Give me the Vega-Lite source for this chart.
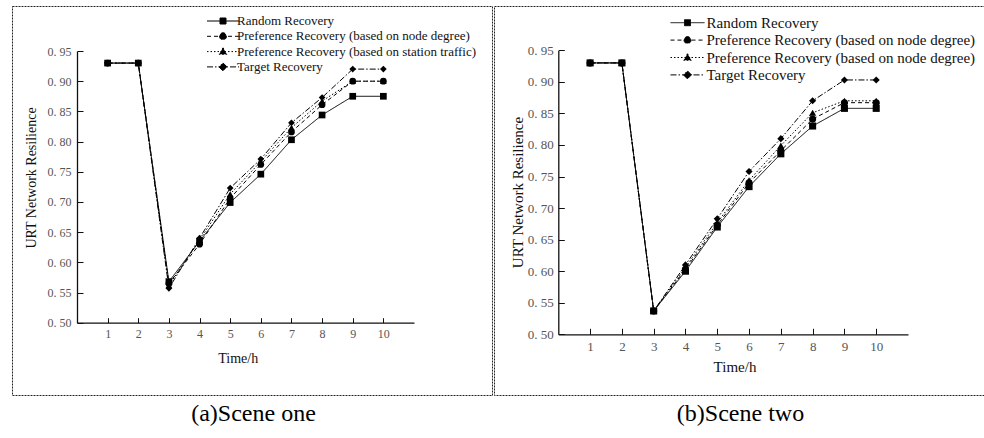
{
  "$schema": "https://vega.github.io/schema/vega-lite/v6.json",
  "padding": {"left": 11, "top": 5, "right": 0, "bottom": 0},
  "background": "white",
  "spacing": 0,
  "config": {
    "view": {"stroke": "#222222", "strokeDash": [2, 1], "strokeWidth": 1},
    "concat": {"spacing": 0},
    "font": "Liberation Serif",
    "axis": {
      "grid": false,
      "domainColor": "#111111",
      "domainWidth": 1.3,
      "tickColor": "#111111",
      "tickWidth": 1,
      "labelFont": "Liberation Serif",
      "labelColor": "#555555",
      "labelOverlap": false,
      "labelFlush": false,
      "titleFont": "Liberation Serif",
      "titleFontWeight": "normal",
      "titleColor": "#111111"
    },
    "legend": {"padding": 0, "labelFont": "Liberation Serif", "labelColor": "#111111", "labelLimit": 600, "symbolStrokeColor": "black", "symbolStrokeWidth": 1, "symbolFillColor": "black"}
  },
  "datasets": {
    "scene1": [
      {"t": 1, "series": "Random Recovery", "r": 0.93},
      {"t": 2, "series": "Random Recovery", "r": 0.93},
      {"t": 3, "series": "Random Recovery", "r": 0.568},
      {"t": 4, "series": "Random Recovery", "r": 0.635},
      {"t": 5, "series": "Random Recovery", "r": 0.699},
      {"t": 6, "series": "Random Recovery", "r": 0.746},
      {"t": 7, "series": "Random Recovery", "r": 0.803},
      {"t": 8, "series": "Random Recovery", "r": 0.844},
      {"t": 9, "series": "Random Recovery", "r": 0.875},
      {"t": 10, "series": "Random Recovery", "r": 0.875},
      {"t": 1, "series": "Preference Recovery (based on node degree)", "r": 0.93},
      {"t": 2, "series": "Preference Recovery (based on node degree)", "r": 0.93},
      {"t": 3, "series": "Preference Recovery (based on node degree)", "r": 0.565},
      {"t": 4, "series": "Preference Recovery (based on node degree)", "r": 0.630},
      {"t": 5, "series": "Preference Recovery (based on node degree)", "r": 0.706},
      {"t": 6, "series": "Preference Recovery (based on node degree)", "r": 0.762},
      {"t": 7, "series": "Preference Recovery (based on node degree)", "r": 0.816},
      {"t": 8, "series": "Preference Recovery (based on node degree)", "r": 0.861},
      {"t": 9, "series": "Preference Recovery (based on node degree)", "r": 0.900},
      {"t": 10, "series": "Preference Recovery (based on node degree)", "r": 0.900},
      {"t": 1, "series": "Preference Recovery (based on station traffic)", "r": 0.93},
      {"t": 2, "series": "Preference Recovery (based on station traffic)", "r": 0.93},
      {"t": 3, "series": "Preference Recovery (based on station traffic)", "r": 0.562},
      {"t": 4, "series": "Preference Recovery (based on station traffic)", "r": 0.637},
      {"t": 5, "series": "Preference Recovery (based on station traffic)", "r": 0.713},
      {"t": 6, "series": "Preference Recovery (based on station traffic)", "r": 0.767},
      {"t": 7, "series": "Preference Recovery (based on station traffic)", "r": 0.823},
      {"t": 8, "series": "Preference Recovery (based on station traffic)", "r": 0.867},
      {"t": 9, "series": "Preference Recovery (based on station traffic)", "r": 0.900},
      {"t": 10, "series": "Preference Recovery (based on station traffic)", "r": 0.900},
      {"t": 1, "series": "Target Recovery", "r": 0.93},
      {"t": 2, "series": "Target Recovery", "r": 0.93},
      {"t": 3, "series": "Target Recovery", "r": 0.557},
      {"t": 4, "series": "Target Recovery", "r": 0.640},
      {"t": 5, "series": "Target Recovery", "r": 0.723},
      {"t": 6, "series": "Target Recovery", "r": 0.771},
      {"t": 7, "series": "Target Recovery", "r": 0.831},
      {"t": 8, "series": "Target Recovery", "r": 0.873},
      {"t": 9, "series": "Target Recovery", "r": 0.920},
      {"t": 10, "series": "Target Recovery", "r": 0.920}
    ],
    "scene2": [
      {"t": 1, "series": "Random Recovery", "r": 0.93},
      {"t": 2, "series": "Random Recovery", "r": 0.93},
      {"t": 3, "series": "Random Recovery", "r": 0.537},
      {"t": 4, "series": "Random Recovery", "r": 0.600},
      {"t": 5, "series": "Random Recovery", "r": 0.670},
      {"t": 6, "series": "Random Recovery", "r": 0.734},
      {"t": 7, "series": "Random Recovery", "r": 0.786},
      {"t": 8, "series": "Random Recovery", "r": 0.830},
      {"t": 9, "series": "Random Recovery", "r": 0.858},
      {"t": 10, "series": "Random Recovery", "r": 0.858},
      {"t": 1, "series": "Preference Recovery (based on node degree)", "r": 0.93},
      {"t": 2, "series": "Preference Recovery (based on node degree)", "r": 0.93},
      {"t": 3, "series": "Preference Recovery (based on node degree)", "r": 0.537},
      {"t": 4, "series": "Preference Recovery (based on node degree)", "r": 0.603},
      {"t": 5, "series": "Preference Recovery (based on node degree)", "r": 0.673},
      {"t": 6, "series": "Preference Recovery (based on node degree)", "r": 0.740},
      {"t": 7, "series": "Preference Recovery (based on node degree)", "r": 0.791},
      {"t": 8, "series": "Preference Recovery (based on node degree)", "r": 0.841},
      {"t": 9, "series": "Preference Recovery (based on node degree)", "r": 0.867},
      {"t": 10, "series": "Preference Recovery (based on node degree)", "r": 0.867},
      {"t": 1, "series": "Preference Recovery (based on station traffic)", "r": 0.93},
      {"t": 2, "series": "Preference Recovery (based on station traffic)", "r": 0.93},
      {"t": 3, "series": "Preference Recovery (based on station traffic)", "r": 0.537},
      {"t": 4, "series": "Preference Recovery (based on station traffic)", "r": 0.606},
      {"t": 5, "series": "Preference Recovery (based on station traffic)", "r": 0.677},
      {"t": 6, "series": "Preference Recovery (based on station traffic)", "r": 0.744},
      {"t": 7, "series": "Preference Recovery (based on station traffic)", "r": 0.799},
      {"t": 8, "series": "Preference Recovery (based on station traffic)", "r": 0.851},
      {"t": 9, "series": "Preference Recovery (based on station traffic)", "r": 0.870},
      {"t": 10, "series": "Preference Recovery (based on station traffic)", "r": 0.870},
      {"t": 1, "series": "Target Recovery", "r": 0.93},
      {"t": 2, "series": "Target Recovery", "r": 0.93},
      {"t": 3, "series": "Target Recovery", "r": 0.537},
      {"t": 4, "series": "Target Recovery", "r": 0.610},
      {"t": 5, "series": "Target Recovery", "r": 0.683},
      {"t": 6, "series": "Target Recovery", "r": 0.758},
      {"t": 7, "series": "Target Recovery", "r": 0.810},
      {"t": 8, "series": "Target Recovery", "r": 0.870},
      {"t": 9, "series": "Target Recovery", "r": 0.903},
      {"t": 10, "series": "Target Recovery", "r": 0.903}
    ]
  },
  "resolve": {
    "scale": {"strokeDash": "independent"},
    "legend": {"strokeDash": "independent"}
  },
  "hconcat": [
    {
      "spacing": 0,
      "resolve": {"scale": {"strokeDash": "independent"}, "legend": {"strokeDash": "independent"}},
      "vconcat": [
        {
          "width": 480,
          "height": 389,
          "data": {"name": "scene1"},
          "layer": [
            {
              "mark": {"type": "line", "color": "black", "strokeWidth": 1},
              "encoding": {
                "x": {
                  "field": "t", "type": "quantitative",
                  "scale": {"domain": [0, 11], "range": [65, 402], "nice": false, "zero": false},
                  "axis": {
                    "title": "Time/h", "orient": "bottom", "offset": -72.3,
                    "values": [1, 2, 3, 4, 5, 6, 7, 8, 9, 10],
                    "labelOverlap": false,
                    "labelFlush": false,
                    "tickSize": -5,
                    "labelPadding": 11,
                    "labelFontSize": 12,
                    "titleFontSize": 14,
                    "titleX": 225.7, "titleY": 36, "titleBaseline": "middle"
                  }
                },
                "y": {
                  "field": "r", "type": "quantitative",
                  "scale": {"domain": [0.5, 0.95], "range": [316.7, 45], "nice": false, "zero": false},
                  "axis": {
                    "title": "URT Network Resilience", "orient": "left", "offset": -65,
                    "values": [0.5, 0.525, 0.55, 0.575, 0.6, 0.625, 0.65, 0.675, 0.7, 0.725, 0.75, 0.775, 0.8, 0.825, 0.85, 0.875, 0.9, 0.925, 0.95],
                    "labelExpr": "round(datum.value*1000) % 50 == 0 ? replace(format(datum.value, '.2f'), '.', '.\u00a0') : ''",
                    "labelOverlap": false,
                    "tickSize": {"condition": {"test": "round(datum.value*1000) % 50 != 0", "value": -3}, "value": -6},
                    "labelPadding": 12,
                    "labelFontSize": 12,
                    "titleFontSize": 14,
                    "titleX": -46, "titleY": 171.5, "titleBaseline": "middle"
                  }
                },
                "strokeDash": {
                  "field": "series", "type": "nominal",
                  "scale": {
                    "domain": ["Random Recovery", "Preference Recovery (based on node degree)", "Preference Recovery (based on station traffic)", "Target Recovery"],
                    "range": [[1, 0], [4, 3], [1.5, 2], [6, 2, 1.5, 2]]
                  },
                  "legend": {
                    "title": null, "orient": "none", "legendX": 204.5, "legendY": 8.5, "direction": "vertical",
                    "symbolSize": 100, "labelFontSize": 13, "labelOffset": 7.5, "rowPadding": 1.3,
                    "encode": {
                      "symbols": {
                        "update": {
                          "shape": {"signal": "datum.value === 'Random Recovery' ? 'M-3.2,0H3.2M-0.6,-0.6H0.6V0.6H-0.6Z' : datum.value === 'Preference Recovery (based on node degree)' ? 'M-3.2,0H3.2M-0.7,0A0.7,0.7 0 1,0 0.7,0A0.7,0.7 0 1,0 -0.7,0Z' : datum.value === 'Target Recovery' ? 'M-3.2,0H3.2M0,-0.8L0.8,0L0,0.8L-0.8,0Z' : 'M-3.2,0H3.2M0,-0.75L0.75,0.55L-0.75,0.55Z'"},
                          "fill": {"value": "black"},
                          "fillOpacity": {"value": 1},
                          "stroke": {"value": "black"},
                          "strokeOpacity": {"value": 1},
                          "strokeWidth": {"value": 1},
                          "opacity": {"value": 1}
                        }
                      }
                    }
                  }
                }
              }
            },
            {
              "transform": [{"filter": {"field": "series", "equal": "Random Recovery"}}],
              "mark": {"type": "point", "shape": "square", "filled": true, "color": "black", "size": 45, "opacity": 1},
              "encoding": {"x": {"field": "t", "type": "quantitative"}, "y": {"field": "r", "type": "quantitative"}}
            },
            {
              "transform": [{"filter": {"field": "series", "equal": "Preference Recovery (based on node degree)"}}],
              "mark": {"type": "point", "shape": "circle", "filled": true, "color": "black", "size": 45, "opacity": 1},
              "encoding": {"x": {"field": "t", "type": "quantitative"}, "y": {"field": "r", "type": "quantitative"}}
            },
            {
              "transform": [{"filter": {"field": "series", "equal": "Preference Recovery (based on station traffic)"}}],
              "mark": {"type": "point", "shape": "triangle-up", "filled": true, "color": "black", "size": 45, "opacity": 1},
              "encoding": {"x": {"field": "t", "type": "quantitative"}, "y": {"field": "r", "type": "quantitative"}}
            },
            {
              "transform": [{"filter": {"field": "series", "equal": "Target Recovery"}}],
              "mark": {"type": "point", "shape": "diamond", "filled": true, "color": "black", "size": 45, "opacity": 1},
              "encoding": {"x": {"field": "t", "type": "quantitative"}, "y": {"field": "r", "type": "quantitative"}}
            }
          ]
        },
        {
          "width": 480,
          "height": 44,
          "data": {"values": [{"caption": "(a)Scene one"}]},
          "mark": {"type": "text", "font": "Liberation Serif", "fontSize": 24, "color": "black", "baseline": "middle", "align": "center", "dy": -4, "dx": 1.5},
          "encoding": {"text": {"field": "caption", "type": "nominal"}}
        }
      ]
    },
    {
      "spacing": 0,
      "resolve": {"scale": {"strokeDash": "independent"}, "legend": {"strokeDash": "independent"}},
      "vconcat": [
        {
          "width": 493,
          "height": 389,
          "data": {"name": "scene2"},
          "layer": [
            {
              "mark": {"type": "line", "color": "black", "strokeWidth": 1},
              "encoding": {
                "x": {
                  "field": "t", "type": "quantitative",
                  "scale": {"domain": [0, 11], "range": [64.3, 414], "nice": false, "zero": false},
                  "axis": {
                    "title": "Time/h", "orient": "bottom", "offset": -60.7,
                    "values": [1, 2, 3, 4, 5, 6, 7, 8, 9, 10],
                    "labelOverlap": false,
                    "labelFlush": false,
                    "tickSize": -6,
                    "labelPadding": 12,
                    "labelFontSize": 13,
                    "titleFontSize": 15,
                    "titleX": 240.5, "titleY": 32, "titleBaseline": "middle"
                  }
                },
                "y": {
                  "field": "r", "type": "quantitative",
                  "scale": {"domain": [0.5, 0.95], "range": [328.3, 44.3], "nice": false, "zero": false},
                  "axis": {
                    "title": "URT Network Resilience", "orient": "left", "offset": -64.3,
                    "values": [0.5, 0.525, 0.55, 0.575, 0.6, 0.625, 0.65, 0.675, 0.7, 0.725, 0.75, 0.775, 0.8, 0.825, 0.85, 0.875, 0.9, 0.925, 0.95],
                    "labelExpr": "round(datum.value*1000) % 50 == 0 ? replace(format(datum.value, '.2f'), '.', '.\u00a0') : ''",
                    "labelOverlap": false,
                    "tickSize": {"condition": {"test": "round(datum.value*1000) % 50 != 0", "value": -3}, "value": -6},
                    "labelPadding": 11,
                    "labelFontSize": 13,
                    "titleFontSize": 15,
                    "titleX": -41, "titleY": 186, "titleBaseline": "middle"
                  }
                },
                "strokeDash": {
                  "field": "series", "type": "nominal",
                  "scale": {
                    "domain": ["Random Recovery", "Preference Recovery (based on node degree)", "Preference Recovery (based on station traffic)", "Target Recovery"],
                    "range": [[1, 0], [4, 3], [1.5, 2], [6, 2, 1.5, 2]]
                  },
                  "legend": {
                    "title": null, "orient": "none", "legendX": 186, "legendY": 9.2, "direction": "vertical",
                    "symbolSize": 100, "labelFontSize": 15, "labelOffset": 11.5, "rowPadding": 1.4,
                    "labelExpr": "replace(datum.label, 'station traffic', 'node degree')",
                    "encode": {
                      "symbols": {
                        "update": {
                          "shape": {"signal": "datum.value === 'Random Recovery' ? 'M-3.4,0H3.4M-0.6,-0.6H0.6V0.6H-0.6Z' : datum.value === 'Preference Recovery (based on node degree)' ? 'M-3.4,0H3.4M-0.7,0A0.7,0.7 0 1,0 0.7,0A0.7,0.7 0 1,0 -0.7,0Z' : datum.value === 'Target Recovery' ? 'M-3.4,0H3.4M0,-0.8L0.8,0L0,0.8L-0.8,0Z' : 'M-3.4,0H3.4M0,-0.75L0.75,0.55L-0.75,0.55Z'"},
                          "fill": {"value": "black"},
                          "fillOpacity": {"value": 1},
                          "stroke": {"value": "black"},
                          "strokeOpacity": {"value": 1},
                          "strokeWidth": {"value": 1},
                          "opacity": {"value": 1}
                        }
                      }
                    }
                  }
                }
              }
            },
            {
              "transform": [{"filter": {"field": "series", "equal": "Random Recovery"}}],
              "mark": {"type": "point", "shape": "square", "filled": true, "color": "black", "size": 50, "opacity": 1},
              "encoding": {"x": {"field": "t", "type": "quantitative"}, "y": {"field": "r", "type": "quantitative"}}
            },
            {
              "transform": [{"filter": {"field": "series", "equal": "Preference Recovery (based on node degree)"}}],
              "mark": {"type": "point", "shape": "circle", "filled": true, "color": "black", "size": 50, "opacity": 1},
              "encoding": {"x": {"field": "t", "type": "quantitative"}, "y": {"field": "r", "type": "quantitative"}}
            },
            {
              "transform": [{"filter": {"field": "series", "equal": "Preference Recovery (based on station traffic)"}}],
              "mark": {"type": "point", "shape": "triangle-up", "filled": true, "color": "black", "size": 50, "opacity": 1},
              "encoding": {"x": {"field": "t", "type": "quantitative"}, "y": {"field": "r", "type": "quantitative"}}
            },
            {
              "transform": [{"filter": {"field": "series", "equal": "Target Recovery"}}],
              "mark": {"type": "point", "shape": "diamond", "filled": true, "color": "black", "size": 50, "opacity": 1},
              "encoding": {"x": {"field": "t", "type": "quantitative"}, "y": {"field": "r", "type": "quantitative"}}
            }
          ]
        },
        {
          "width": 493,
          "height": 44,
          "data": {"values": [{"caption": "(b)Scene two"}]},
          "mark": {"type": "text", "font": "Liberation Serif", "fontSize": 24, "color": "black", "baseline": "middle", "align": "center", "dy": -4},
          "encoding": {"text": {"field": "caption", "type": "nominal"}}
        }
      ]
    }
  ]
}
